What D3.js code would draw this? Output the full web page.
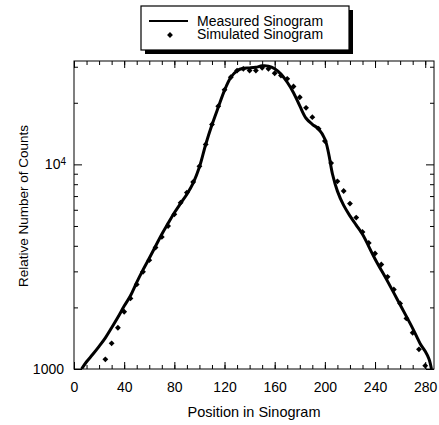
<!DOCTYPE html>
<html>
<head>
<meta charset="utf-8">
<script src="https://cdn.jsdelivr.net/npm/d3@7"></script>
<style>
body { margin: 0; background: #fff; }
text { font-family: "Liberation Sans", Arial, sans-serif; fill: #000; }
</style>
</head>
<body>
<svg id="chart" width="439" height="425"></svg>
<script>
// measured sinogram (solid line)
var measuredPos = [6, 10, 15, 20, 25, 30, 35, 40, 45, 50, 55, 60, 65, 70, 75, 80, 85, 90, 95, 100,
    105, 110, 115, 120, 125, 130, 135, 140, 145, 150, 155, 160, 165, 170, 175, 180, 185, 190, 195, 200,
    203, 206, 210, 215, 220, 225, 230, 240, 250, 260, 270, 276, 280, 283, 285];
var measuredCounts = [1000, 1085, 1180, 1290, 1420, 1590, 1790, 2030, 2280, 2650, 3050, 3480, 3980, 4560, 5150, 5800, 6450, 7150, 8100, 9700,
    12500, 15600, 19000, 23000, 26600, 28700, 29500, 29600, 29800, 30300, 30200, 29300, 27600, 25200, 22400, 19300, 16800, 15700, 14900, 13300,
    11300, 9000, 7400, 6300, 5600, 5050, 4550, 3450, 2680, 2060, 1580, 1330, 1220, 1120, 1000];

// simulated sinogram (diamonds)
var simulatedPos = [25, 30, 35, 40, 45, 50, 55, 60, 65, 70, 75, 80, 85, 90, 95, 100, 105, 110, 115, 120,
    125, 130, 135, 140, 145, 150, 155, 160, 165, 170, 175, 180, 185, 190, 195, 200, 205, 210, 215, 220,
    225, 230, 235, 240, 245, 250, 255, 260, 265, 270, 275, 280];
var simulatedCounts = [1115, 1335, 1590, 1904, 2213, 2590, 2983, 3402, 3924, 4420, 5000, 5700, 6500, 7280, 8200, 9780, 12520, 15670, 19250, 23130,
    26660, 28740, 29300, 28740, 28740, 29630, 29300, 27890, 27170, 26180, 24020, 21290, 18900, 17010, 14940, 12990, 10150, 8260, 7410, 6430,
    5495, 4670, 4130, 3667, 3242, 2820, 2447, 2092, 1767, 1503, 1248, 1038];

var xTicks = [0, 40, 80, 120, 160, 200, 240, 280];
var xMinor = d3.range(10, 287, 10);
var yTicks = [1000, 10000];
var yMinor = [2000, 3000, 4000, 5000, 6000, 7000, 8000, 9000, 20000, 30000];
var legendLabels = ["Measured Sinogram", "Simulated Sinogram"];

var svg = d3.select('#chart');
var plotL = 74, plotR = 434, plotT = 61, plotB = 369;

var x = d3.scaleLinear().domain([0, 287]).range([plotL, plotR]);
var y = d3.scaleLog().domain([1000, 32000]).range([plotB, plotT]);

var diamond = d3.symbol().type(d3.symbolSquare).size(17);

// axes: ticks point inward on all four sides
function addAxis(axis, tx, ty) {
    var g = svg.append('g').attr('transform', 'translate(' + tx + ',' + ty + ')').call(axis);
    g.select('.domain').remove();
    g.selectAll('.tick line').attr('stroke', '#000').attr('stroke-width', 1);
    g.selectAll('text').style('font-size', '14px').attr('fill', '#000');
    return g;
}

addAxis(d3.axisBottom(x).tickValues(xMinor).tickSize(-4).tickFormat(''), 0, plotB);
addAxis(d3.axisTop(x).tickValues(xMinor).tickSize(-4).tickFormat(''), 0, plotT);
addAxis(d3.axisBottom(x).tickValues(xTicks).tickSize(-7).tickPadding(13), 0, plotB);
addAxis(d3.axisTop(x).tickValues(xTicks).tickSize(-7).tickFormat(''), 0, plotT);

addAxis(d3.axisLeft(y).tickValues(yMinor).tickSize(-4).tickFormat(''), plotL, 0);
addAxis(d3.axisRight(y).tickValues(yMinor).tickSize(-4).tickFormat(''), plotR, 0);
var yAxis = addAxis(d3.axisLeft(y).tickValues(yTicks).tickSize(-8).tickPadding(10)
    .tickFormat(function (d) { return d === 1000 ? '1000' : '10'; }), plotL, 0);
addAxis(d3.axisRight(y).tickValues(yTicks).tickSize(-8).tickFormat(''), plotR, 0);

// superscript for 10^4
yAxis.selectAll('.tick text').filter(function (d) { return d === 10000; })
    .attr('x', -8)
    .append('tspan').text('4').attr('dy', '-0.45em').style('font-size', '10px');

svg.append('rect')
    .attr('x', plotL).attr('y', plotT)
    .attr('width', plotR - plotL).attr('height', plotB - plotT)
    .attr('fill', 'none').attr('stroke', '#000').attr('stroke-width', 1);

svg.append('clipPath').attr('id', 'plot-clip')
    .append('rect').attr('x', plotL).attr('y', plotT).attr('width', plotR - plotL).attr('height', plotB - plotT);

var line = d3.line()
    .x(function (d, i) { return x(measuredPos[i]); })
    .y(function (d) { return y(d); })
    .curve(d3.curveCatmullRom.alpha(0.5));

svg.append('path')
    .datum(measuredCounts)
    .attr('clip-path', 'url(#plot-clip)')
    .attr('d', line)
    .attr('fill', 'none')
    .attr('stroke', '#000')
    .attr('stroke-width', 3)
    .attr('stroke-linejoin', 'round');

svg.append('g')
    .selectAll('path')
    .data(simulatedCounts)
    .enter()
    .append('path')
    .attr('d', diamond)
    .attr('transform', function (d, i) { return 'translate(' + x(simulatedPos[i]) + ',' + y(d) + ') rotate(45)'; })
    .attr('fill', '#000');

// axis titles
svg.append('text')
    .attr('x', (plotL + plotR) / 2).attr('y', 417)
    .attr('text-anchor', 'middle')
    .style('font-size', '14.5px')
    .text('Position in Sinogram');

svg.append('text')
    .attr('transform', 'translate(28,206) rotate(-90)')
    .attr('text-anchor', 'middle')
    .style('font-size', '13.5px')
    .text('Relative Number of Counts');

// legend with drop shadow
var legend = svg.append('g');
legend.append('rect').attr('x', 145).attr('y', 10).attr('width', 208).attr('height', 44).attr('fill', '#000');
legend.append('rect').attr('x', 141).attr('y', 6).attr('width', 208).attr('height', 44)
    .attr('fill', '#fff').attr('stroke', '#000').attr('stroke-width', 1.2);
legend.append('line').attr('x1', 149).attr('x2', 188).attr('y1', 21).attr('y2', 21)
    .attr('stroke', '#000').attr('stroke-width', 2);
legend.append('path').attr('d', diamond).attr('transform', 'translate(170,35) rotate(45)').attr('fill', '#000');
legend.selectAll('text.lab')
    .data(legendLabels)
    .enter()
    .append('text')
    .attr('class', 'lab')
    .attr('x', 197)
    .attr('y', function (d, i) { return 25.5 + i * 13; })
    .style('font-size', '14px')
    .text(function (d) { return d; });
</script>
</body>
</html>
